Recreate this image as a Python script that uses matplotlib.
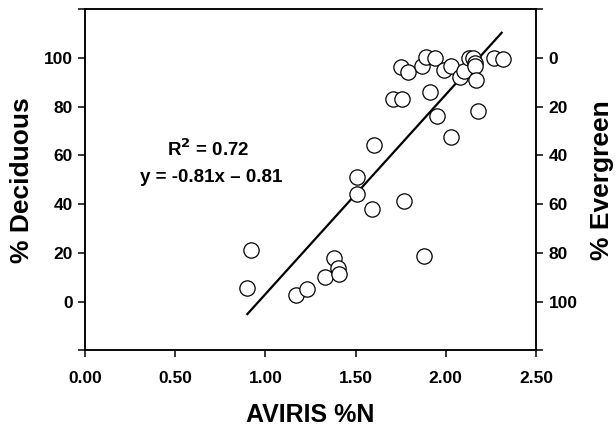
import numpy as np
import matplotlib.pyplot as plt

plt.rcParams['font.family'] = ['Liberation Sans', 'DejaVu Sans']
plt.rcParams['font.weight'] = 'bold'

# AVIRIS %N vs % deciduous
aviris_n = [0.90, 0.92, 1.17, 1.23, 1.33, 1.38, 1.40, 1.41, 1.51, 1.51, 1.59,
            1.60, 1.71, 1.76, 1.75, 1.79, 1.77, 1.87, 1.89, 1.91, 1.88, 1.94,
            1.95, 1.99, 2.03, 2.03, 2.08, 2.10, 2.13, 2.15, 2.16, 2.16, 2.17,
            2.18, 2.27, 2.32]
deciduous = [5.6, 21.4, 2.9, 5.2, 10.3, 18.0, 13.7, 11.5, 44.3, 51.1, 38.1,
             64.4, 83.0, 83.0, 96.3, 94.2, 41.2, 96.6, 100.2, 86.0, 18.6, 99.8,
             76.0, 94.9, 96.7, 67.5, 92.2, 94.5, 99.8, 99.8, 97.7, 96.5, 91.1,
             78.2, 99.8, 99.5]

fit_slope = 81.8
fit_intercept = -78.7
fit_x = np.array([0.90, 2.31])

fig = plt.figure(figsize=(6.16, 4.29), dpi=100)
ax = fig.add_axes([0.138, 0.183, 0.732, 0.796])

ax.plot(aviris_n, deciduous, 'o', ms=11, mfc='white', mec='black', mew=0.9, zorder=3)
ax.plot(fit_x, fit_slope * fit_x + fit_intercept, color='black', lw=1.6, zorder=2)

ax.set_xlim(0, 2.5)
ax.set_ylim(-20, 120)
ax.set_xticks(np.arange(0, 2.51, 0.5))
ax.set_xticklabels(['%.2f' % v for v in np.arange(0, 2.51, 0.5)])
yt = [-20, 0, 20, 40, 60, 80, 100, 120]
ax.set_yticks(yt)
ax.set_yticklabels(['' if v in (-20, 120) else str(v) for v in yt])

ax.text(0.68, 62.7, 'R$^{\\mathbf{2}}$ = 0.72', ha='center', va='center', fontsize=13.5, fontweight='bold')
ax.text(0.70, 51, 'y = -0.81x \u2013 0.81', ha='center', va='center', fontsize=13.5, fontweight='bold')

ax.set_xlabel('AVIRIS %N', fontsize=18, fontweight='bold', labelpad=12)
ax.set_ylabel('% Deciduous', fontsize=19, fontweight='bold', labelpad=7)

ax2 = ax.twinx()
ax2.set_ylim(120, -20)
ax2.set_yticks(yt)
ax2.set_yticklabels(['' if v in (-20, 120) else str(v) for v in yt])
ax2.set_ylabel('% Evergreen', fontsize=19, fontweight='bold', labelpad=9)

for a in (ax, ax2):
    a.tick_params(direction='out', length=5, width=1.1, labelsize=12.5, pad=4)
    for s in a.spines.values():
        s.set_linewidth(1.1)
ax.tick_params(axis='x', pad=10)
ax.tick_params(top=False)

fig.savefig('out.png', dpi=100)
